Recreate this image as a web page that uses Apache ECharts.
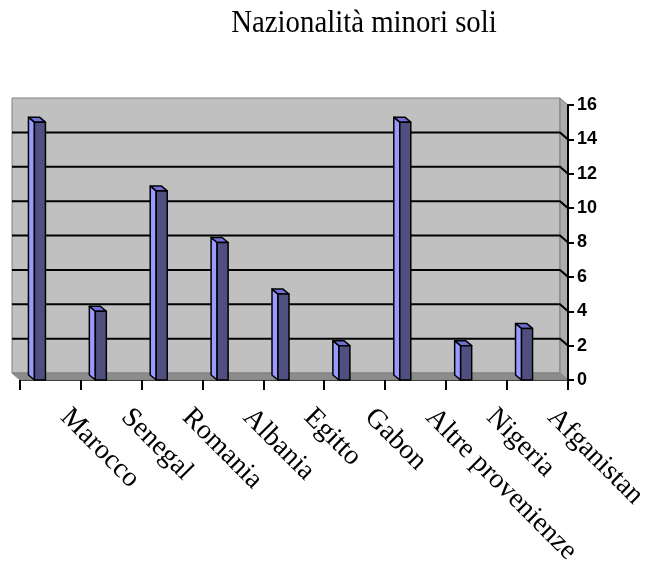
<!DOCTYPE html>
<html>
<head>
<meta charset="utf-8">
<title>Nazionalità minori soli</title>
<script src="https://cdn.jsdelivr.net/npm/echarts@6/dist/echarts.min.js"></script>
<style>
    html, body { margin: 0; padding: 0; background: #fff; }
    #chart { width: 656px; height: 588px; }
</style>
</head>
<body>
<div id="chart"></div>
<script>
    // dati
    var categories = ['Marocco', 'Senegal', 'Romania', 'Albania', 'Egitto', 'Gabon', 'Altre provenienze', 'Nigeria', 'Afganistan'];
    var values = [15, 4, 11, 8, 5, 2, 15, 2, 3];
    var yTicks = [0, 2, 4, 6, 8, 10, 12, 14, 16];

    var serif = "'Times New Roman', 'Liberation Serif', serif";
    var sans = "Arial, 'Liberation Sans', sans-serif";

    // profondità della scena 3D (pareti) e delle colonne
    var wallDx = 8, wallDy = 7;
    var barDx = 6, barDy = 5;

    var chart = echarts.init(document.getElementById('chart'));

    function renderWalls(params, api) {
        var cs = params.coordSys;
        var x = cs.x, y = cs.y, w = cs.width, h = cs.height;
        var children = [];
        // parete di fondo
        children.push({
            type: 'rect',
            shape: { x: x - wallDx, y: y - wallDy, width: w, height: h },
            style: { fill: '#c0c0c0', stroke: '#808080', lineWidth: 1 }
        });
        // pavimento
        children.push({
            type: 'polygon',
            shape: { points: [[x - wallDx, y + h - wallDy], [x + w - wallDx, y + h - wallDy], [x + w, y + h], [x, y + h]] },
            style: { fill: '#8c8c8c', stroke: '#808080', lineWidth: 1 }
        });
        // parete laterale destra
        children.push({
            type: 'polygon',
            shape: { points: [[x + w - wallDx, y - wallDy], [x + w, y], [x + w, y + h], [x + w - wallDx, y + h - wallDy]] },
            style: { fill: '#ababab', stroke: '#808080', lineWidth: 1 }
        });
        // griglia
        yTicks.forEach(function (v) {
            if (v === yTicks[0] || v === yTicks[yTicks.length - 1]) return;
            var py = api.coord([0, v])[1];
            children.push({
                type: 'polyline',
                shape: { points: [[x - wallDx, py - wallDy], [x + w - wallDx, py - wallDy], [x + w, py]] },
                style: { fill: null, stroke: '#000', lineWidth: 2 }
            });
        });
        return { type: 'group', children: children };
    }

    // tacche dell'asse delle categorie, una per ogni confine tra categorie
    function renderTick(params, api) {
        var cs = params.coordSys;
        var band = cs.width / categories.length;
        var tx = Math.round(cs.x + api.value(0) * band);
        var ty = cs.y + cs.height;
        return {
            type: 'rect',
            shape: { x: tx - 1, y: ty, width: 2, height: 10 },
            style: { fill: '#000' }
        };
    }

    function renderBar(params, api) {
        var idx = api.value(0);
        var top = api.coord([idx, api.value(1)]);
        var base = api.coord([idx, 0]);
        var cx = top[0] - 10.5;
        var x0 = cx - 5.5, x1 = cx + 5.5;
        var ty = top[1], by = base[1];
        var line = { stroke: '#000', lineWidth: 1.5, lineJoin: 'round' };
        return {
            type: 'group',
            children: [
                {
                    type: 'polygon',
                    shape: { points: [[x0, ty], [x0 - barDx, ty - barDy], [x0 - barDx, by - barDy], [x0, by]] },
                    style: Object.assign({ fill: '#9999ff' }, line)
                },
                {
                    type: 'polygon',
                    shape: { points: [[x0, ty], [x1, ty], [x1 - barDx, ty - barDy], [x0 - barDx, ty - barDy]] },
                    style: Object.assign({ fill: '#7070d8' }, line)
                },
                {
                    type: 'rect',
                    shape: { x: x0, y: ty, width: x1 - x0, height: by - ty },
                    style: Object.assign({ fill: '#505080' }, line)
                }
            ]
        };
    }

    var tickData = [];
    for (var i = 0; i <= categories.length; i++) tickData.push([i, 0]);

    chart.setOption({
        animation: false,
        // titolo: carattere un po' più stretto come nell'originale
        graphic: [{
            type: 'text',
            x: 364,
            y: 8,
            scaleX: 0.9,
            style: {
                text: 'Nazionalità minori soli',
                font: '32px ' + serif,
                fill: '#000',
                textAlign: 'center'
            }
        }],
        grid: { left: 20, right: 88, top: 105, bottom: 208 },
        xAxis: {
            type: 'category',
            data: categories,
            axisLine: { lineStyle: { color: '#000', width: 2 } },
            axisTick: { show: false },
            axisLabel: {
                interval: 0,
                rotate: -45,
                margin: 19,
                padding: [0, 0, 0, 20],
                fontFamily: serif,
                fontSize: 28,
                color: '#000'
            },
            splitLine: { show: false }
        },
        yAxis: {
            type: 'value',
            position: 'right',
            min: 0,
            max: 16,
            interval: 2,
            z: 10,
            axisLine: { show: true, lineStyle: { color: '#000', width: 2 } },
            axisTick: { show: true, length: 6, lineStyle: { color: '#000', width: 2 } },
            axisLabel: { margin: 9, fontFamily: sans, fontSize: 18, fontWeight: 'bold', color: '#000' },
            splitLine: { show: false }
        },
        series: [
            {
                type: 'custom',
                name: 'pareti',
                z: 1,
                silent: true,
                clip: false,
                renderItem: renderWalls,
                data: [[0, 0]]
            },
            {
                type: 'custom',
                name: 'minori',
                z: 2,
                renderItem: renderBar,
                encode: { x: 0, y: 1 },
                data: values.map(function (v, i) { return [i, v]; })
            },
            {
                type: 'custom',
                name: 'tacche',
                z: 20,
                silent: true,
                clip: false,
                renderItem: renderTick,
                data: tickData
            }
        ]
    });
</script>
</body>
</html>
